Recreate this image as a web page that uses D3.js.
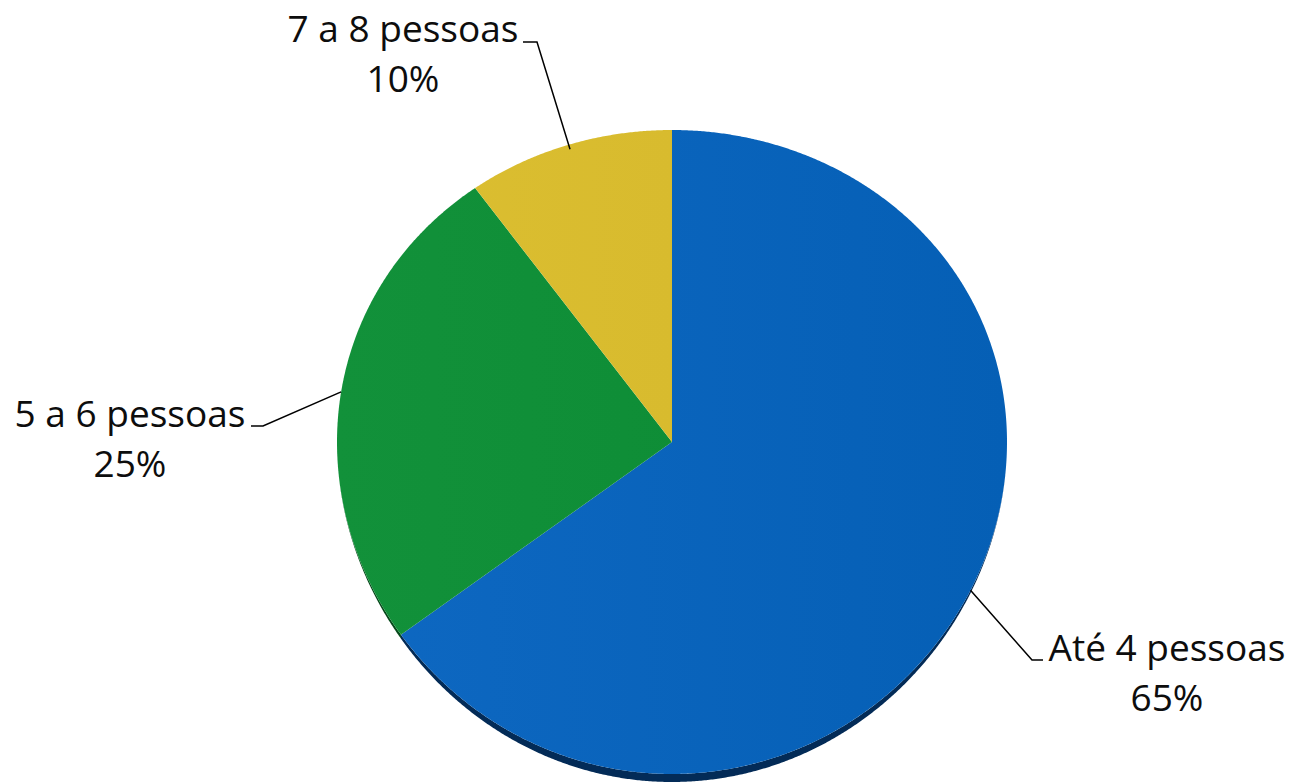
<!DOCTYPE html>
<html><head><meta charset="utf-8">
<script src="https://cdn.jsdelivr.net/npm/d3@7"></script>
<style>html,body{margin:0;padding:0;background:#fff;}svg{display:block;}</style>
</head><body>
<svg id="chart" width="1295" height="784"></svg>
<script>
// ---- data ----
const categories = ["Até 4 pessoas", "5 a 6 pessoas", "7 a 8 pessoas"];
const values = [65, 25, 10];
const percentLabels = ["65%", "25%", "10%"];

// ---- style / layout ----
const colors = [
  {light: "#0e68c2", dark: "#055fb5", side: "#032b57"},
  {light: "#12913a", dark: "#0b8a33", side: "#064a1b"},
  {light: "#dcbf31", dark: "#d4b72b", side: "#7a6a12"}
];
const cx = 672, cy = 442, rx = 335, ryMid = 322, ryTilt = 10, depth = 8;
// label layout: elbow point, end of horizontal stub, text center x, first baseline
const labelLayout = [
  {elbow: [1032, 660], stub: [1043, 660], tx: 1167, ty: 661, anchorF: 1.0},
  {elbow: [263, 426], stub: [251, 426], tx: 130, ty: 427, anchorF: 1.0},
  {elbow: [537, 42], stub: [523, 42], tx: 403, ty: 42, anchorF: 0.985}
];

const svg = d3.select("#chart");
const defs = svg.append("defs");
colors.forEach((c, i) => {
  const g = defs.append("linearGradient").attr("id", "g" + i)
    .attr("gradientUnits", "userSpaceOnUse")
    .attr("x1", cx - rx).attr("x2", cx + rx).attr("y1", 0).attr("y2", 0);
  g.append("stop").attr("offset", 0).attr("stop-color", c.light);
  g.append("stop").attr("offset", 1).attr("stop-color", c.dark);
});

const ry = a => ryMid - ryTilt * Math.cos(a);
const proj = (a, f) => [cx + f * rx * Math.sin(a), cy - f * ry(a) * Math.cos(a)];

const pie = d3.pie().sort(null).value(d => d)(values);
const line = d3.line();

function arcPoints(a0, a1, f, extra) {
  const n = Math.max(2, Math.ceil((a1 - a0) / 0.005));
  return d3.range(n + 1).map(i => {
    const a = a0 + (a1 - a0) * i / n;
    const p = proj(a, f);
    if (extra) p[1] += extra(a);
    return p;
  });
}

// side (depth) band for lower half
const sideG = svg.append("g");
pie.forEach((d, i) => {
  const lo = Math.max(d.startAngle, Math.PI / 2), hi = Math.min(d.endAngle, 3 * Math.PI / 2);
  if (hi <= lo) return;
  const off = a => depth * Math.pow(Math.max(0, -Math.cos(a)), 1.3);
  const top = arcPoints(lo, hi, 1);
  const bot = arcPoints(lo, hi, 1, off).reverse();
  sideG.append("path").attr("d", line(top.concat(bot)) + "Z").attr("fill", colors[i].side);
});

// slices
const sliceG = svg.append("g");
pie.forEach((d, i) => {
  const pts = [[cx, cy]].concat(arcPoints(d.startAngle, d.endAngle, 1));
  sliceG.append("path").attr("d", line(pts) + "Z").attr("fill", "url(#g" + i + ")");
});

// labels with leader lines
const labG = svg.append("g").attr("font-family", "'Open Sans', sans-serif").attr("font-size", 37).attr("fill", "#0d0d0d");
pie.forEach((d, i) => {
  const L = labelLayout[i];
  const mid = (d.startAngle + d.endAngle) / 2;
  const a = proj(mid, L.anchorF);
  svg.append("path").attr("d", line([a, L.elbow, L.stub]))
    .attr("fill", "none").attr("stroke", "#000").attr("stroke-width", 1.5);
  labG.append("text").attr("x", L.tx).attr("y", L.ty).attr("text-anchor", "middle").text(categories[i]);
  labG.append("text").attr("x", L.tx).attr("y", L.ty + 50).attr("text-anchor", "middle").text(percentLabels[i]);
});
</script>
</body></html>
